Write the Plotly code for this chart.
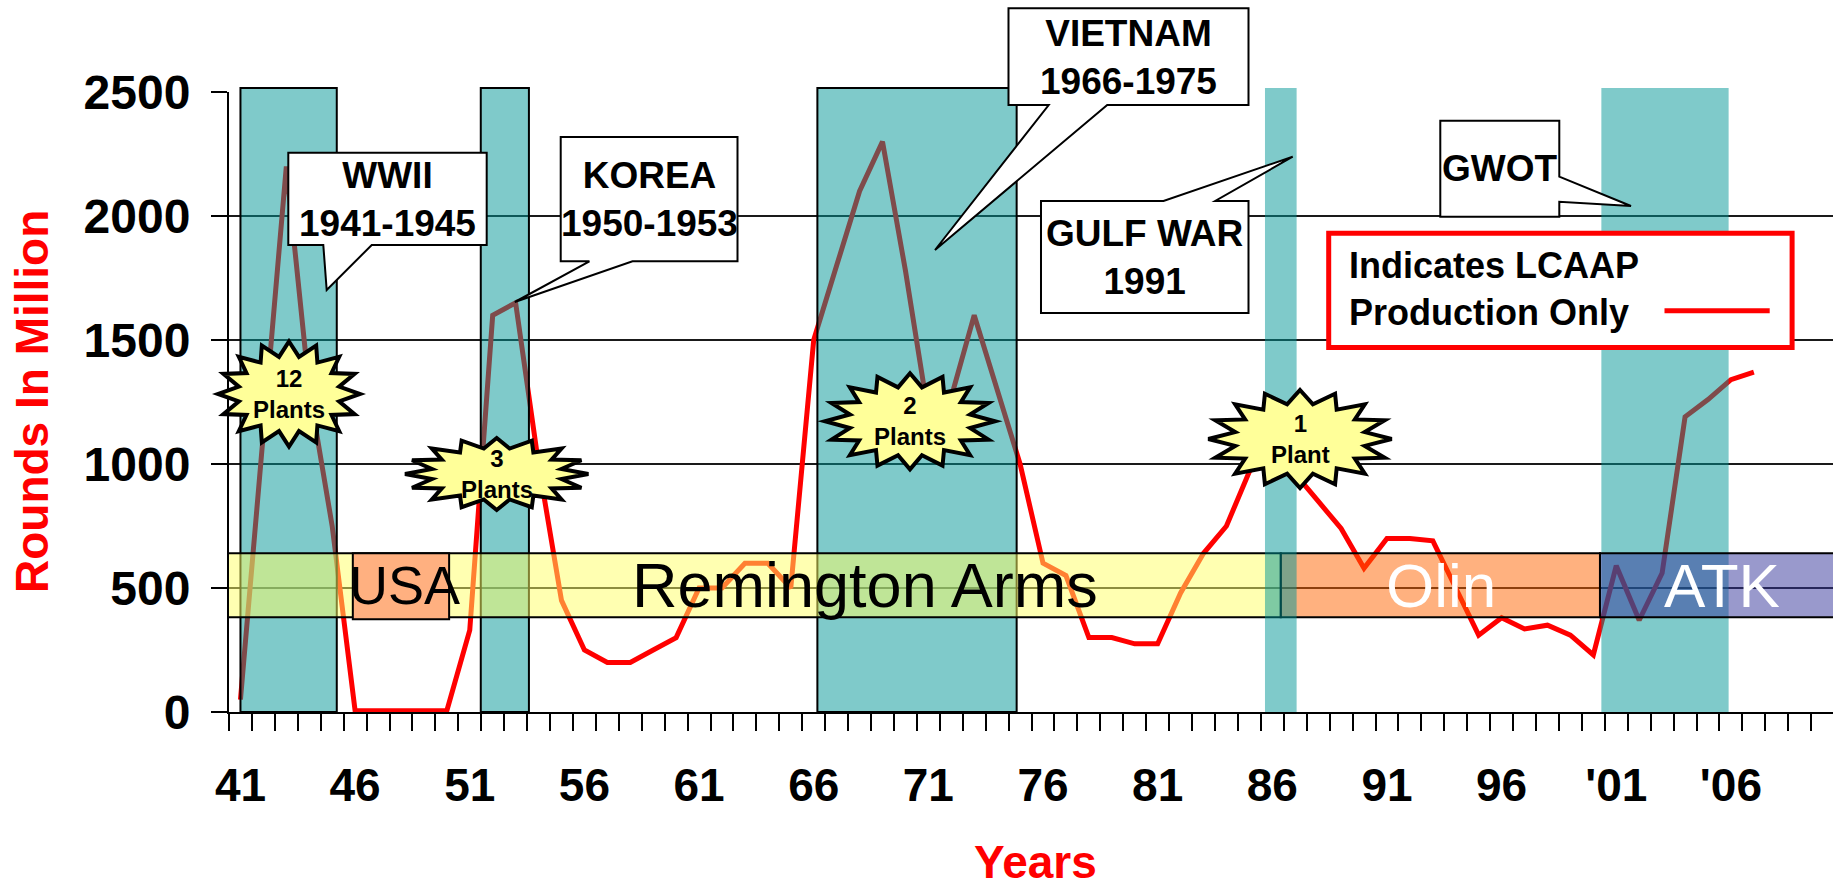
import math
import plotly.graph_objects as go

# ---------------- data ----------------
years = list(range(1941, 2008))
rounds = [50, 1150, 2200, 1300, 750, 5, 5, 5, 5, 5, 330, 1600, 1650, 1000, 450, 250, 200, 200, 250, 300,
          500, 500, 600, 600, 500, 1500, 1800, 2100, 2300, 1780, 1200, 1270, 1600, 1300, 1000, 600, 550, 300, 300, 275,
          275, 480, 640, 750, 970, 1050, 960, 850, 740, 580, 700, 700, 690, 500, 310, 380, 335, 350, 310, 230,
          590, 370, 560, 1190, 1260, 1340, 1370]

tick_years = [1941, 1946, 1951, 1956, 1961, 1966, 1971, 1976, 1981, 1986, 1991, 1996, 2001, 2006]
tick_labels = ["41", "46", "51", "56", "61", "66", "71", "76", "81", "86", "91", "96", "'01", "'06"]
y_ticks = [0, 500, 1000, 1500, 2000, 2500]

war_names = ["WWII", "KOREA", "VIETNAM", "GULF WAR", "GWOT"]
war_start = [1941.0, 1951.48, 1966.16, 1985.68, 2000.35]
war_end = [1945.2, 1953.58, 1974.85, 1987.06, 2005.9]
war_border = [True, True, True, False, False]
war_on_top = [False, False, False, True, False]

company_names = ["Remington Arms", "USA", "Olin", "ATK"]
company_start = [1940.3, 1945.9, 1986.37, 2000.29]
company_end = [1986.37, 1950.1, 2000.29, 2012.0]
company_low = [382, 374, 382, 382]
company_high = [640, 640, 640, 640]
company_label_x = [1968.24, 1948.15, 1993.36, 2005.6]

plant_labels = ["12<br>Plants", "3<br>Plants", "2<br>Plants", "1<br>Plant"]
callout_texts = ["WWII<br>1941-1945", "KOREA<br>1950-1953", "VIETNAM<br>1966-1975", "GULF WAR<br>1991", "GWOT"]

# ---------------- layout geometry (pixels) ----------------
FW, FH = 1833, 889
L, R, T, B = 229, 1833, 92, 712
PW, PH = R - L, B - T
X0 = 1940.5
X1 = X0 + PW / 22.93

def px(x):
    return (x - L) / PW

def py(y):
    return (B - y) / PH

def poly(points):
    return "M " + " L ".join(f"{px(a):.5f},{py(b):.5f}" for a, b in points) + " Z"

def star(cx, cy, rx, ry, n=16, inner=0.72):
    pts = []
    for k in range(2 * n):
        ang = -math.pi / 2 + k * math.pi / n
        f = 1.0 if k % 2 == 0 else inner
        pts.append((cx + rx * f * math.cos(ang), cy + ry * f * math.sin(ang)))
    return poly(pts)

FONT = "Liberation Sans, Arial, sans-serif"

fig = go.Figure()
fig.add_trace(go.Scatter(x=years, y=rounds, mode="lines",
                         line=dict(color="#FF0000", width=5),
                         showlegend=False, hoverinfo="x+y"))

shapes = []
teal = "rgba(0,150,150,0.5)"
# war periods below company bands
for i in range(len(war_names)):
    if war_on_top[i]:
        continue
    shapes.append(dict(type="rect", xref="x", yref="paper", x0=war_start[i], x1=war_end[i],
                       y0=0, y1=py(88), fillcolor=teal, layer="above",
                       line=dict(color="black", width=2 if war_border[i] else 0)))
# company bands
comp_fill = ["rgba(255,255,100,0.5)", "rgb(255,176,128)", "rgba(255,100,0,0.5)", "rgba(51,51,153,0.5)"]
for i in range(len(company_names)):
    shapes.append(dict(type="rect", xref="x", yref="y", x0=company_start[i], x1=company_end[i],
                       y0=company_low[i], y1=company_high[i], fillcolor=comp_fill[i], layer="above",
                       line=dict(color="black", width=2)))
# war periods above bands
for i in range(len(war_names)):
    if not war_on_top[i]:
        continue
    shapes.append(dict(type="rect", xref="x", yref="paper", x0=war_start[i], x1=war_end[i],
                       y0=0, y1=py(88), fillcolor=teal, layer="above",
                       line=dict(color="black", width=0)))

# callouts (box + wedge)
callouts = [
    [(288.3, 152.7), (486.7, 152.7), (486.7, 245), (371.7, 245), (326.7, 290), (323.3, 245), (288.3, 245)],
    [(560.7, 137), (737.5, 137), (737.5, 261.3), (632.5, 261.3), (514.8, 302), (589.4, 261.3), (560.7, 261.3)],
    [(1008.5, 8.3), (1248.5, 8.3), (1248.5, 105), (1107.2, 105), (935, 250), (1048.7, 105), (1008.5, 105)],
    [(1041, 201), (1163.5, 201), (1292.7, 156.7), (1215.2, 201), (1248.5, 201), (1248.5, 313), (1041, 313)],
    [(1440.3, 120.7), (1559.3, 120.7), (1559.3, 176.7), (1631, 206), (1559.3, 201.7), (1559.3, 216.7), (1440.3, 216.7)],
]
callout_centers = [(387.5, 199), (649, 199), (1128.5, 57), (1144.8, 257), (1499.8, 169)]
for pts in callouts:
    shapes.append(dict(type="path", xref="paper", yref="paper", path=poly(pts),
                       fillcolor="white", line=dict(color="black", width=2), layer="above"))

# stars
stars = [(289, 394, 71, 52.5), (496.7, 474, 91.7, 36), (910, 421.3, 85, 48), (1300, 439, 91.7, 49)]
for cx, cy, rx, ry in stars:
    shapes.append(dict(type="path", xref="paper", yref="paper", path=star(cx, cy, rx, ry),
                       fillcolor="#FFFF99", line=dict(color="black", width=4), layer="above"))

# legend box
shapes.append(dict(type="rect", xref="paper", yref="paper", x0=px(1328.7), x1=px(1792.1),
                   y0=py(347.5), y1=py(233.2), fillcolor="white",
                   line=dict(color="#FF0000", width=5), layer="above"))
shapes.append(dict(type="line", xref="paper", yref="paper", x0=px(1664.5), x1=px(1769.7),
                   y0=py(310.7), y1=py(310.7), line=dict(color="#FF0000", width=5), layer="above"))

annotations = []
# company labels
comp_font = [dict(size=63, color="black"), dict(size=54, color="black"),
             dict(size=62, color="white"), dict(size=62, color="white")]
for i in range(len(company_names)):
    annotations.append(dict(x=company_label_x[i], y=511, xref="x", yref="y", text=company_names[i],
                            showarrow=False, font=dict(family=FONT, **comp_font[i]),
                            xanchor="center", yanchor="middle"))
# callout texts
for (cx, cy), t in zip(callout_centers, callout_texts):
    annotations.append(dict(x=px(cx), y=py(cy), xref="paper", yref="paper", text=t, showarrow=False,
                            font=dict(family=FONT, size=37, color="black", weight="bold"),
                            xanchor="center", yanchor="middle", align="center"))
# star texts
for (cx, cy, rx, ry), t in zip(stars, plant_labels):
    annotations.append(dict(x=px(cx), y=py(cy), xref="paper", yref="paper", text=t, showarrow=False,
                            font=dict(family=FONT, size=24, color="black", weight="bold"),
                            xanchor="center", yanchor="middle", align="center"))
# legend text
annotations.append(dict(x=px(1347), y=py(289), xref="paper", yref="paper",
                        text="Indicates LCAAP<br>Production Only", showarrow=False, align="left",
                        font=dict(family=FONT, size=36, color="black", weight="bold"),
                        xanchor="left", yanchor="middle"))
# axis titles
annotations.append(dict(x=px(32), y=py(402), xref="paper", yref="paper", text="Rounds In Million",
                        textangle=-90, showarrow=False,
                        font=dict(family=FONT, size=46, color="#FF0000", weight="bold"),
                        xanchor="center", yanchor="middle"))
annotations.append(dict(x=px(1035), y=py(862), xref="paper", yref="paper", text="Years",
                        showarrow=False,
                        font=dict(family=FONT, size=46, color="#FF0000", weight="bold"),
                        xanchor="center", yanchor="middle"))

fig.update_layout(
    width=FW, height=FH,
    margin=dict(l=L, r=FW - R, t=T, b=FH - B, autoexpand=False),
    paper_bgcolor="white", plot_bgcolor="white",
    font=dict(family=FONT, color="black"),
    shapes=shapes, annotations=annotations,
    showlegend=False,
    xaxis=dict(range=[X0, X1], tickmode="array", tickvals=tick_years, ticktext=tick_labels,
               ticks="outside", ticklen=17, tickcolor="rgba(0,0,0,0)", tickwidth=2,
               ticklabelstandoff=15,
               tickfont=dict(family=FONT, size=46, color="black", weight="bold"),
               showgrid=False, zeroline=False, showline=True, linecolor="black", linewidth=2,
               minor=dict(ticks="outside", ticklen=17, tickwidth=2, tickcolor="black",
                          tickmode="linear", tick0=1940.5, dtick=1, showgrid=False),
               fixedrange=True),
    yaxis=dict(range=[0, 2500], tickmode="array", tickvals=y_ticks,
               ticks="outside", ticklen=16, tickwidth=2, tickcolor="black",
               ticklabelstandoff=11,
               tickfont=dict(family=FONT, size=48, color="black", weight="bold"),
               showgrid=True, gridcolor="#1a1a1a", gridwidth=2, zeroline=False,
               showline=True, linecolor="black", linewidth=2, fixedrange=True),
)

fig.write_html("out.html", config={"displayModeBar": False},
               post_script="document.body.style.margin='0px';")
